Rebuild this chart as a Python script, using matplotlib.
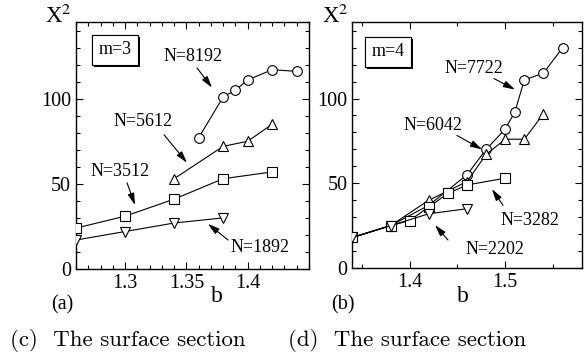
import numpy as np
import matplotlib
matplotlib.use("Agg")
import matplotlib.pyplot as plt
import matplotlib.patheffects as pe
from matplotlib.ticker import MultipleLocator

# ---- data ----
# panel (a): m=3
b_8192 = [1.36, 1.38, 1.39, 1.40, 1.42, 1.44]
x2_8192 = [77, 101, 105, 111, 117, 116]
b_5612 = [1.34, 1.38, 1.40, 1.42]
x2_5612 = [53, 72, 75, 85]
b_3512 = [1.26, 1.30, 1.34, 1.38, 1.42]
x2_3512 = [24, 31, 41, 53, 57]
b_1892 = [1.26, 1.30, 1.34, 1.38]
x2_1892 = [17, 22, 27, 30]

# panel (b): m=4
b_7722 = [1.34, 1.38, 1.42, 1.46, 1.48, 1.50, 1.51, 1.52, 1.54, 1.56]
x2_7722 = [18, 25, 37, 55, 70, 82, 92, 111, 115, 130]
b_6042 = [1.34, 1.38, 1.42, 1.46, 1.48, 1.50, 1.52, 1.54]
x2_6042 = [18, 25, 40, 51, 67, 76, 76, 91]
b_3282 = [1.34, 1.38, 1.40, 1.42, 1.44, 1.46, 1.50]
x2_3282 = [18, 25, 28, 36, 44, 49, 53]
b_2202 = [1.34, 1.38, 1.42, 1.46]
x2_2202 = [18, 25, 32, 35]

SERIF = "Liberation Serif"
plt.rcParams["font.family"] = SERIF
plt.rcParams["mathtext.fontset"] = "stix"

W, H = 584, 358
fig = plt.figure(figsize=(W / 100, H / 100), dpi=100)


def px(x, y):
    # pixel coords -> figure fraction
    return x / W, 1 - y / H


def make_axes(x0, x1, y0, y1):
    ax = fig.add_axes([x0 / W, 1 - y1 / H, (x1 - x0) / W, (y1 - y0) / H])
    for s in ax.spines.values():
        s.set_linewidth(1.0)
    ax.tick_params(which="both", direction="in", top=True, right=True,
                   labelsize=14.5, width=0.8, pad=3.5)
    ax.tick_params(which="major", length=5)
    ax.tick_params(which="minor", length=3)
    ax.set_ylim(0, 145)
    ax.yaxis.set_major_locator(MultipleLocator(50))
    ax.yaxis.set_minor_locator(MultipleLocator(10))
    return ax


def series(ax, b, v, marker, z):
    ax.plot(b, v, color="black", lw=0.8, marker=marker, ms=7,
            mfc="white", mec="black", mew=0.8, zorder=z)


def label(ax, txt, at, tail, head):
    ax.text(*at, txt, ha="center", va="center", fontsize=13)
    ax.annotate("", xy=head, xytext=tail,
                arrowprops=dict(arrowstyle="-|>,head_length=0.7,head_width=0.2",
                                color="black", lw=0.8, shrinkA=0, shrinkB=0))


def mbox(ax, txt, x, y):
    t = fig.text(*px(x, y), txt, ha="center", va="center", fontsize=13,
                 bbox=dict(boxstyle="square,pad=0.35", fc="white", ec="black", lw=0.8))
    t.get_bbox_patch().set_path_effects([
        pe.withSimplePatchShadow(offset=(1.6, -1.6), shadow_rgbFace="black", alpha=1),
        pe.Normal()])


# ---- panel (a) ----
ax1 = make_axes(76, 309, 22, 269)
ax1.set_xlim(1.26, 1.45)
ax1.xaxis.set_minor_locator(MultipleLocator(0.01))
ax1.set_xticks([1.3, 1.35, 1.4])
ax1.set_xticklabels(["1.3", "1.35", "1.4"])
series(ax1, b_8192, x2_8192, "o", 3)
series(ax1, b_5612, x2_5612, "^", 4)
series(ax1, b_3512, x2_3512, "s", 5)
series(ax1, b_1892, x2_1892, "v", 6)
label(ax1, "N=8192", (1.3554, 124.7), (1.3587, 118), (1.3709, 106.5))
label(ax1, "N=5612", (1.3146, 86.5), (1.3318, 78.8), (1.3505, 62.4))
label(ax1, "N=3512", (1.2959, 57), (1.3016, 50.6), (1.3081, 37.6))
label(ax1, "N=1892", (1.410, 12.9), (1.384, 17), (1.3676, 26.5))
mbox(ax1, "m=3", 115, 50)

# ---- panel (b) ----
ax2 = make_axes(352.3, 581.7, 22.3, 268)
ax2.set_xlim(1.34, 1.58)
ax2.xaxis.set_minor_locator(MultipleLocator(0.05))
ax2.set_xticks([1.4, 1.5])
ax2.set_xticklabels(["1.4", "1.5"])
series(ax2, b_7722, x2_7722, "o", 3)
series(ax2, b_6042, x2_6042, "^", 4)
series(ax2, b_3282, x2_3282, "s", 5)
series(ax2, b_2202, x2_2202, "v", 6)
label(ax2, "N=7722", (1.4673, 118), (1.4882, 111.8), (1.5102, 105.3))
label(ax2, "N=6042", (1.4244, 84), (1.4495, 78.2), (1.4757, 70))
label(ax2, "N=3282", (1.5259, 28.2), (1.4977, 37), (1.4861, 46.5))
label(ax2, "N=2202", (1.4893, 11.2), (1.4401, 16.5), (1.4265, 25.3))
mbox(ax2, "m=4", 388, 52)

# ---- axis titles & captions ----
for x in (58, 335):
    fig.text(*px(x, 16), r"X$^{2}$", ha="center", va="center", fontsize=16.5)
for x in (217, 463):
    fig.text(*px(x, 297), "b", ha="center", va="center", fontsize=17)
fig.text(*px(62, 305), "(a)", ha="center", va="center", fontsize=14.5)
fig.text(*px(343, 305), "(b)", ha="center", va="center", fontsize=14.5)
fig.text(*px(128, 340), "(c)  The surface section", ha="center", va="center",
         fontsize=16.5, family="cmr10")
fig.text(*px(407, 340), "(d)  The surface section", ha="center", va="center",
         fontsize=16.5, family="cmr10")

fig.savefig("out.png", dpi=100)
